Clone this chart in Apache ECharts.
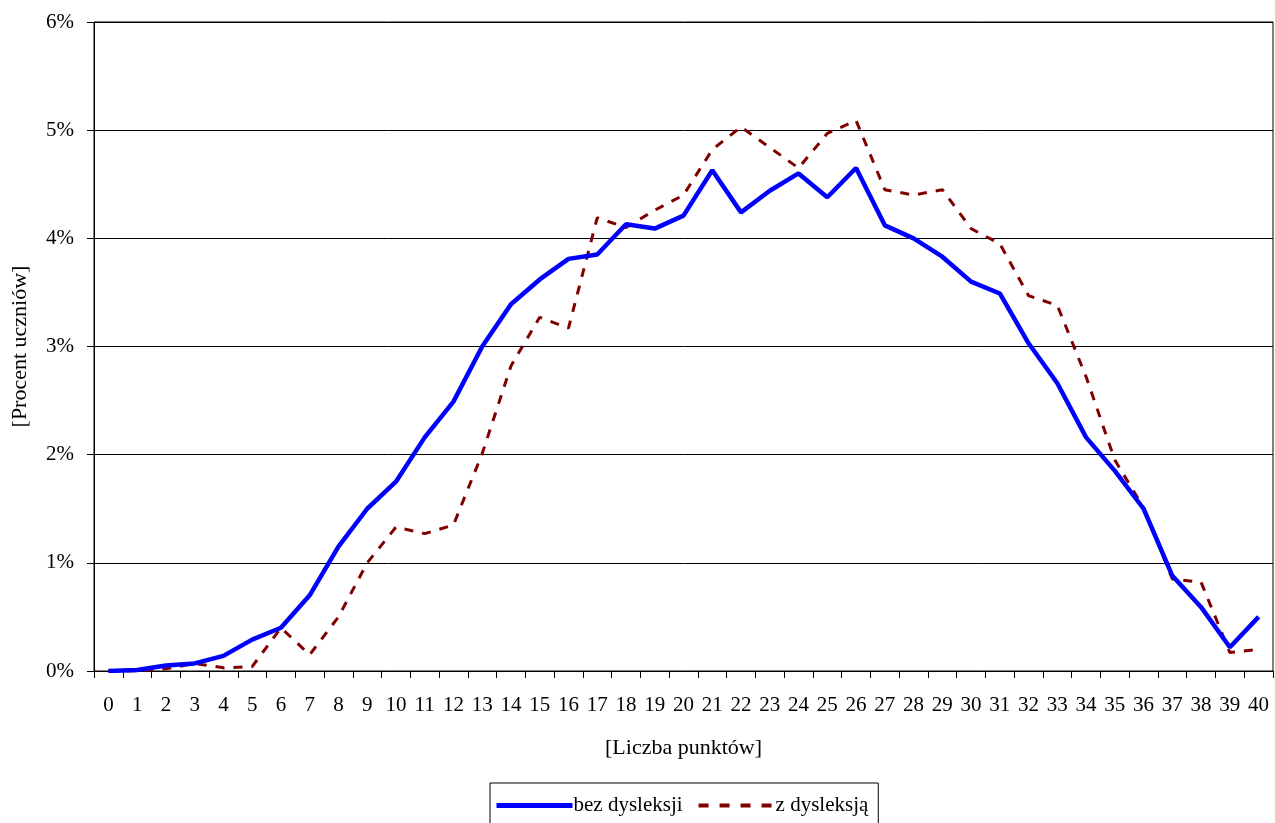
<!DOCTYPE html>
<html>
<head>
<meta charset="utf-8">
<script src="https://cdn.jsdelivr.net/npm/echarts@6/dist/echarts.min.js"></script>
<style>
html,body{margin:0;padding:0;background:#fff;}
#chart{width:1275px;height:823px;}
</style>
</head>
<body>
<div id="chart"></div>
<script>
const categories = ['0','1','2','3','4','5','6','7','8','9','10','11','12','13','14','15','16','17','18','19','20','21','22','23','24','25','26','27','28','29','30','31','32','33','34','35','36','37','38','39','40'];
const bezDysleksji = [0.0,0.01,0.05,0.07,0.14,0.29,0.40,0.70,1.15,1.50,1.75,2.16,2.49,3.00,3.39,3.62,3.81,3.85,4.13,4.09,4.21,4.63,4.24,4.44,4.60,4.38,4.65,4.12,4.00,3.83,3.60,3.49,3.03,2.66,2.16,1.85,1.50,0.88,0.59,0.22,0.50];
const zDysleksja = [0.0,0.0,0.02,0.07,0.03,0.04,0.40,0.15,0.50,1.00,1.33,1.27,1.35,2.01,2.82,3.27,3.17,4.19,4.10,4.26,4.40,4.82,5.03,4.84,4.65,4.97,5.09,4.45,4.40,4.45,4.09,3.95,3.47,3.38,2.72,1.95,1.51,0.85,0.82,0.17,0.20];
const yTicks = {min:0, max:6, interval:1};

const font = 'Liberation Serif';
const chart = echarts.init(document.getElementById('chart'), null, {renderer:'canvas'});
chart.setOption({
  animation:false,
  backgroundColor:'#fff',
  textStyle:{fontFamily:font, color:'#000'},
  grid:{left:94, right:2, top:22, bottom:152, containLabel:false, show:true, borderColor:'#000', borderWidth:1},
  legend:{
    bottom:-4, left:490,
    borderColor:'#000', borderWidth:1, padding:[12,10,11,4],
    itemGap:14, itemWidth:76, itemHeight:12,
    itemStyle:{opacity:0},
    textStyle:{fontFamily:font, fontSize:21, color:'#000', padding:[0,0,0,-4]},
    data:[
      {name:'bez dysleksji', lineStyle:{color:'#0000ff', width:5}},
      {name:'z dysleksją', lineStyle:{color:'#800000', width:4, type:[10,11]}}
    ]
  },
  xAxis:{
    type:'category', data:categories, boundaryGap:true,
    name:'[Liczba punktów]', nameLocation:'middle', nameGap:66,
    nameTextStyle:{fontFamily:font, fontSize:22, color:'#000'},
    axisLine:{lineStyle:{color:'#000', width:1}},
    axisTick:{show:true, alignWithLabel:false, length:7, lineStyle:{color:'#000'}},
    axisLabel:{fontFamily:font, fontSize:21, color:'#000', margin:24, interval:0},
    splitLine:{show:false}
  },
  yAxis:{
    type:'value', min:yTicks.min, max:yTicks.max, interval:yTicks.interval,
    name:'[Procent uczniów]', nameLocation:'middle', nameGap:63,
    nameTextStyle:{fontFamily:font, fontSize:22, color:'#000'},
    axisLine:{show:true, lineStyle:{color:'#000', width:1}},
    axisTick:{show:true, length:7, lineStyle:{color:'#000'}},
    axisLabel:{fontFamily:font, fontSize:21, color:'#000', margin:20, formatter:'{value}%'},
    splitLine:{show:true, lineStyle:{color:'#000', width:1}}
  },
  series:[
    {name:'bez dysleksji', type:'line', data:bezDysleksji, symbol:'none',
     lineStyle:{color:'#0000ff', width:4.5}, itemStyle:{color:'#0000ff'}, z:3},
    {name:'z dysleksją', type:'line', data:zDysleksja, symbol:'none',
     lineStyle:{color:'#800000', width:3, type:[9,9]}, itemStyle:{color:'#800000'}, z:2}
  ]
});
</script>
</body>
</html>
